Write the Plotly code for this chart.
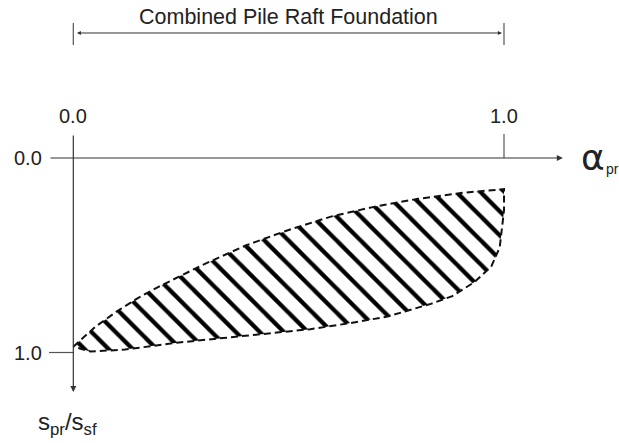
import plotly.graph_objects as go

# Upper boundary of the hatched zone (left tip -> right end)
upper_x = [0.0, 0.05, 0.10, 0.15, 0.20, 0.30, 0.40, 0.50, 0.60, 0.70, 0.80, 0.90, 0.95, 1.0]
upper_y = [0.97, 0.87, 0.79, 0.72, 0.66, 0.55, 0.45, 0.37, 0.30, 0.25, 0.21, 0.18, 0.17, 0.16]
# Lower / right boundary (right end -> back to left tip)
lower_x = [1.0, 1.0, 0.99, 0.97, 0.93, 0.88, 0.83, 0.73, 0.64, 0.55, 0.46, 0.33, 0.24, 0.12, 0.04, 0.0]
lower_y = [0.16, 0.27, 0.46, 0.56, 0.64, 0.71, 0.75, 0.815, 0.85, 0.88, 0.90, 0.93, 0.95, 0.985, 0.995, 0.97]

x_ticks = [0.0, 1.0]
x_tick_labels = ["0.0", "1.0"]
y_ticks = [0.0, 1.0]
y_tick_labels = ["0.0", "1.0"]
title_text = "Combined Pile Raft Foundation"

FONT = "Liberation Sans, Arial, sans-serif"
AX = "#333333"

fig = go.Figure()
fig.add_trace(go.Scatter(
    x=upper_x + lower_x, y=upper_y + lower_y,
    mode="lines", fill="toself",
    fillcolor="white",
    fillpattern=dict(shape="\\", size=17, solidity=0.25, fgcolor="#000000",
                     bgcolor="white", fgopacity=1, fillmode="replace"),
    line=dict(color="#111111", width=2, dash="7px,4px"),
    hoverinfo="skip", showlegend=False,
))

shapes = []
annotations = []
# x axis arrow
annotations.append(dict(x=1.1366, y=0, ax=-0.0564, ay=0, xref="x", yref="y", axref="x", ayref="y",
                        text="", showarrow=True, arrowhead=2, arrowsize=1, arrowwidth=1.2, arrowcolor=AX))
# y axis arrow
annotations.append(dict(x=0, y=1.2031, ax=0, ay=-0.1234, xref="x", yref="y", axref="x", ayref="y",
                        text="", showarrow=True, arrowhead=2, arrowsize=1, arrowwidth=1.2, arrowcolor=AX))
# tick at x=1, y=1
shapes.append(dict(type="line", x0=1, x1=1, y0=-0.1234, y1=0, xref="x", yref="y", line=dict(color="#555", width=1.2)))
shapes.append(dict(type="line", x0=-0.0564, x1=0, y0=1, y1=1, xref="x", yref="y", line=dict(color="#555", width=1.2)))
# dimension line
shapes.append(dict(type="line", x0=0, x1=0, y0=-0.694, y1=-0.581, xref="x", yref="y", line=dict(color="#555", width=1.2)))
shapes.append(dict(type="line", x0=1, x1=1, y0=-0.694, y1=-0.581, xref="x", yref="y", line=dict(color="#555", width=1.2)))
annotations.append(dict(x=0.995, y=-0.6427, ax=0.005, ay=-0.6427, xref="x", yref="y", axref="x", ayref="y",
                        text="", showarrow=True, arrowhead=2, startarrowhead=2, arrowside="end+start",
                        arrowsize=0.8, startarrowsize=0.8, arrowwidth=1, arrowcolor=AX))
annotations.append(dict(x=0.5, y=-0.725, xref="x", yref="y", text=title_text, showarrow=False,
                        font=dict(family=FONT, size=21.5, color="#222")))
# tick labels
for v, t in zip(x_ticks, x_tick_labels):
    annotations.append(dict(x=v, y=-0.215, xref="x", yref="y", text=t, showarrow=False,
                            font=dict(family=FONT, size=20, color="#222")))
for v, t in zip(y_ticks, y_tick_labels):
    annotations.append(dict(x=-0.1063, y=v, xref="x", yref="y", text=t, showarrow=False,
                            font=dict(family=FONT, size=20, color="#222")))
# axis titles
annotations.append(dict(x=1.1741, y=0.0, xref="x", yref="y", text="α", showarrow=False,
                        xanchor="left", font=dict(family="DejaVu Sans", size=36, color="#222")))
annotations.append(dict(x=1.2322, y=0.055, xref="x", yref="y", text="pr", showarrow=False,
                        xanchor="left", font=dict(family=FONT, size=14, color="#222")))
annotations.append(dict(x=-0.0146, y=1.365, xref="x", yref="y",
                        text="s<sub>pr</sub>/s<sub>sf</sub>", showarrow=False,
                        font=dict(family=FONT, size=24, color="#222")))

fig.update_layout(
    width=619, height=443,
    margin=dict(l=0, r=0, t=0, b=0),
    paper_bgcolor="white", plot_bgcolor="white",
    xaxis=dict(range=[-0.1702, 1.2670], visible=False, fixedrange=True),
    yaxis=dict(range=[1.4653, -0.8123], visible=False, fixedrange=True),
    shapes=shapes, annotations=annotations,
    showlegend=False,
)
fig.write_html("out.html", config={"displayModeBar": False},
               post_script="document.body.style.margin='0';document.body.style.overflow='hidden';")
